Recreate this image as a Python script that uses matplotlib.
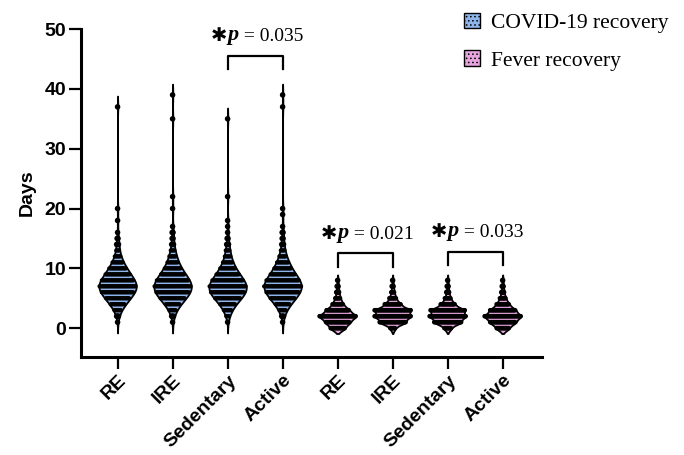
import numpy as np
import matplotlib.pyplot as plt
import matplotlib.patches as mpatches
from matplotlib import mlab

# group labels (4 COVID-19 recovery + 4 fever recovery)
labels = ['RE', 'IRE', 'Sedentary', 'Active', 'RE', 'IRE', 'Sedentary', 'Active']

# number of participants per day (index = days, starting at 0)
cov_re = [0, 1, 3, 8, 16, 26, 35, 40, 35, 27, 19, 12, 7, 4, 3, 2, 1]
cov_ire = [0, 1, 3, 8, 16, 27, 36, 40, 35, 26, 18, 12, 8, 5, 3, 2, 2, 1]
cov_sed = [0, 1, 4, 9, 17, 28, 37, 40, 34, 25, 17, 11, 7, 5, 3, 2, 1, 1]
cov_act = [0, 1, 3, 8, 16, 27, 36, 41, 36, 27, 19, 13, 8, 5, 3, 2, 2, 1]
fev_re = [16, 26, 40, 25, 12, 6, 3, 2, 1]
fev_ire = [6, 29, 40, 40, 18, 8, 4, 2, 1]
fev_sed = [8, 30, 40, 38, 16, 7, 3, 2, 1]
fev_act = [14, 28, 40, 28, 14, 7, 3, 2, 1]

# single long-recovery values
cov_re_tail = [18, 20, 37]
cov_ire_tail = [20, 22, 35, 39]
cov_sed_tail = [18, 22, 35]
cov_act_tail = [19, 20, 37, 39]

counts = [cov_re, cov_ire, cov_sed, cov_act, fev_re, fev_ire, fev_sed, fev_act]
tails = [cov_re_tail, cov_ire_tail, cov_sed_tail, cov_act_tail, [], [], [], []]

# significance brackets: (left group, right group, p text)
sig = [(2, 3, '0.035'), (4, 5, '0.021'), (6, 7, '0.033')]
sig_y = [45.5, 12.5, 12.7]

blue = '#8fb4ea'
pink = '#e7a5de'
colors = [blue] * 4 + [pink] * 4

fig = plt.figure(figsize=(6.84, 4.55), dpi=100)
ax = fig.add_axes([0.118, 0.215, 0.674, 0.721])

pos = np.arange(len(labels))
data = []
for c, t in zip(counts, tails):
    vals = np.repeat(np.arange(len(c)), c)
    data.append(np.concatenate([vals, np.array(t, dtype=float)]))

# violins: kde drawn a little past the data like the original
stats = []
for i, d in enumerate(data):
    bw = 0.22 if i < 4 else 0.3
    kde = mlab.GaussianKDE(d, bw)
    ext = 1.8 if i < 4 else 0.9
    coords = np.linspace(d.min() - ext, d.max() + ext, 400)
    stats.append(dict(coords=coords, vals=kde.evaluate(coords),
                      mean=d.mean(), median=np.median(d),
                      min=d.min(), max=d.max()))
widths = [0.68] * 4 + [0.66] * 4
parts = ax.violin(stats, positions=pos, widths=widths, showextrema=False)
for b, col in zip(parts['bodies'], colors):
    b.set_facecolor(col)
    b.set_edgecolor('black')
    b.set_linewidth(1.3)
    b.set_alpha(1)

# dots, one row per day value; lone points drawn a bit bigger
dx = 0.0168
for i in range(8):
    vals, n = np.unique(data[i], return_counts=True)
    xs, ys, ss = [], [], []
    for v, k in zip(vals, n):
        xs.extend(pos[i] + (np.arange(k) - (k - 1) / 2) * dx)
        ys.extend([v] * k)
        ss.extend([16 if k <= 3 else (9 if i < 4 else 11)] * k)
    ax.scatter(xs, ys, s=ss, color='black', linewidths=0, zorder=3)

ax.set_xlim(-0.67, 7.71)
ax.set_ylim(-4.85, 50)
ax.set_yticks([0, 10, 20, 30, 40, 50])
ax.set_xticks(pos)
ax.set_xticklabels(labels, rotation=45, ha='right', rotation_mode='anchor',
                   fontsize=14, fontweight='bold', family='Liberation Sans')
for lab in ax.get_yticklabels():
    lab.set_fontsize(14)
    lab.set_fontweight('bold')
    lab.set_family('Liberation Sans')
ax.set_ylabel('Days', fontsize=14, fontweight='bold', family='Liberation Sans',
              labelpad=6)
ax.spines['top'].set_visible(False)
ax.spines['right'].set_visible(False)
ax.spines['left'].set_linewidth(2.2)
ax.spines['bottom'].set_linewidth(2.2)
ax.tick_params(length=8.5, width=1.6, pad=2)

for (a, b, p), y in zip(sig, sig_y):
    ax.plot([a, a, b, b], [y - 2.2, y, y, y - 2.2], color='black', lw=1.6,
            clip_on=False)
    t1 = ax.text(a - 0.3, y + 1.8, '\u2731', fontsize=14,
                 family=['DejaVu Sans'], va='bottom')
    t2 = ax.annotate('p', xy=(1, 0), xycoords=t1, va='bottom', fontsize=16,
                     family='Liberation Serif', style='italic',
                     fontweight='bold')
    ax.annotate(' = ' + p, xy=(1, 0), xycoords=t2, va='bottom', fontsize=14,
                family='Liberation Serif')

plt.rcParams['hatch.linewidth'] = 0.6
h1 = mpatches.Patch(facecolor=blue, edgecolor='black', hatch='....', lw=1)
h2 = mpatches.Patch(facecolor=pink, edgecolor='black', hatch='....', lw=1)
fig.legend([h1, h2], ['COVID-19 recovery', 'Fever recovery'],
           loc='upper left', bbox_to_anchor=(0.65, 1.015), frameon=False,
           handlelength=0.75, handleheight=0.75, handletextpad=0.5,
           labelspacing=0.8, prop={'family': 'Liberation Serif', 'size': 15.5})

fig.savefig('out.png', dpi=100)
